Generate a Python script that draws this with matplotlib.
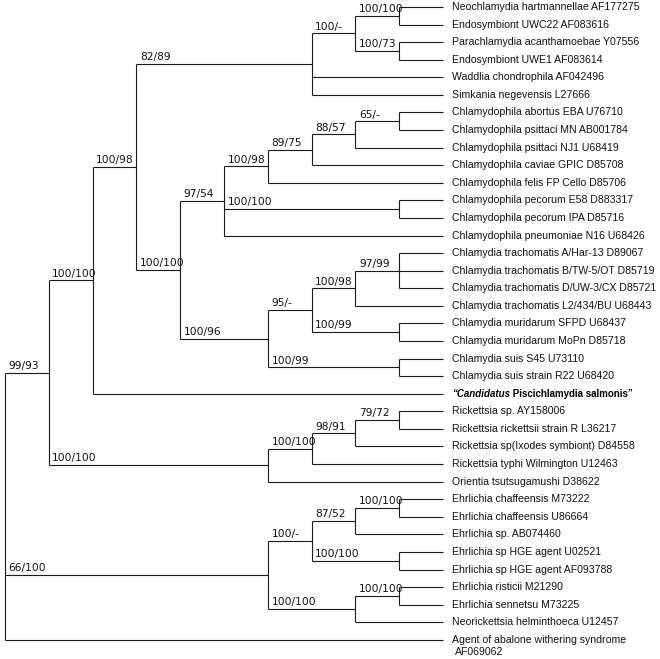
import matplotlib
matplotlib.use("Agg")
import matplotlib.pyplot as plt

# leaf labels, top to bottom
leaves = [
    "Neochlamydia hartmannellae AF177275",
    "Endosymbiont UWC22 AF083616",
    "Parachlamydia acanthamoebae Y07556",
    "Endosymbiont UWE1 AF083614",
    "Waddlia chondrophila AF042496",
    "Simkania negevensis L27666",
    "Chlamydophila abortus EBA U76710",
    "Chlamydophila psittaci MN AB001784",
    "Chlamydophila psittaci NJ1 U68419",
    "Chlamydophila caviae GPIC D85708",
    "Chlamydophila felis FP Cello D85706",
    "Chlamydophila pecorum E58 D883317",
    "Chlamydophila pecorum IPA D85716",
    "Chlamydophila pneumoniae N16 U68426",
    "Chlamydia trachomatis A/Har-13 D89067",
    "Chlamydia trachomatis B/TW-5/OT D85719",
    "Chlamydia trachomatis D/UW-3/CX D85721",
    "Chlamydia trachomatis L2/434/BU U68443",
    "Chlamydia muridarum SFPD U68437",
    "Chlamydia muridarum MoPn D85718",
    "Chlamydia suis S45 U73110",
    "Chlamydia suis strain R22 U68420",
    "CANDIDATUS",
    "Rickettsia sp. AY158006",
    "Rickettsia rickettsii strain R L36217",
    "Rickettsia sp(Ixodes symbiont) D84558",
    "Rickettsia typhi Wilmington U12463",
    "Orientia tsutsugamushi D38622",
    "Ehrlichia chaffeensis M73222",
    "Ehrlichia chaffeensis U86664",
    "Ehrlichia sp. AB074460",
    "Ehrlichia sp HGE agent U02521",
    "Ehrlichia sp HGE agent AF093788",
    "Ehrlichia risticii M21290",
    "Ehrlichia sennetsu M73225",
    "Neorickettsia helminthoeca U12457",
    "Agent of abalone withering syndrome",
]
extra_line = "AF069062"
leaf_level = 10

# internal nodes: id, level (x position in the cladogram), support, children
node_ids = ["neo", "para", "parach", "env", "abort", "psit", "cav", "fel",
            "pec", "cpn", "tra3", "tra", "mur", "trmu", "suis", "chl",
            "chlam", "ord", "cand", "r1", "r2", "r3", "rick", "top",
            "ch", "e1", "hge", "e2", "ris", "neor", "ehr", "root"]
node_levels = [9, 9, 8, 7, 9, 8, 7, 6,
               9, 5, 9, 8, 9, 7, 9, 6,
               4, 3, 2, 9, 8, 7, 6, 1,
               9, 8, 9, 7, 9, 8, 6, 0]
node_support = ["100/100", "100/73", "100/-", "82/89", "65/-", "88/57", "89/75", "100/98",
                "100/100", "97/54", "97/99", "100/98", "100/99", "95/-", "100/99", "100/96",
                "100/100", "100/98", "100/100", "79/72", "98/91", "100/100", "100/100", "99/93",
                "100/100", "87/52", "100/100", "100/-", "100/100", "100/100", "66/100", ""]
node_children = [[0, 1], [2, 3], ["neo", "para"], ["parach", 4, 5],
                 [6, 7], ["abort", 8], ["psit", 9], ["cav", 10],
                 [11, 12], ["fel", "pec", 13], [14, 15, 16], ["tra3", 17],
                 [18, 19], ["tra", "mur"], [20, 21], ["trmu", "suis"],
                 ["cpn", "chl"], ["env", "chlam"], ["ord", 22], [23, 24],
                 ["r1", 25], ["r2", 26], ["r3", 27], ["cand", "rick"],
                 [28, 29], ["ch", 30], [31, 32], ["e1", "hge"],
                 [33, 34], ["ris", 35], ["e2", "neor"], ["top", "ehr", 36]]

fig = plt.figure(figsize=(6.6, 6.59), dpi=100)
ax = fig.add_axes([0, 0, 1, 1])
ax.set_xlim(-0.114, 14.95)
ax.set_ylim(37.09, -0.40)
ax.axis("off")

lw = 0.8
col = "#1a1a1a"
fs = 7.6
font = "Liberation Sans"

level = dict(zip(node_ids, node_levels))
support = dict(zip(node_ids, node_support))
children = dict(zip(node_ids, node_children))
ypos = {}


def get_y(n):
    if isinstance(n, int):
        return n
    if n not in ypos:
        ys = [get_y(c) for c in children[n]]
        ypos[n] = (min(ys) + max(ys)) / 2
    return ypos[n]


def get_x(n):
    return leaf_level if isinstance(n, int) else level[n]


for n in node_ids:
    x = level[n]
    ys = [get_y(c) for c in children[n]]
    ax.plot([x, x], [min(ys), max(ys)], color=col, lw=lw, solid_capstyle="butt")
    for c in children[n]:
        cy = get_y(c)
        ax.plot([x, get_x(c)], [cy, cy], color=col, lw=lw, solid_capstyle="butt")
        if not isinstance(c, int) and support[c]:
            ax.text(x + 0.08, cy - 0.1, support[c], fontsize=7.7, family="DejaVu Sans",
                    ha="left", va="bottom", color="#111111")

# leaf labels
for i, name in enumerate(leaves):
    if name == "CANDIDATUS":
        t1 = ax.text(leaf_level + 0.2, i, "\u201cCandidatus", fontsize=7.0, family=font,
                     fontweight="bold", fontstyle="italic", ha="left", va="center")
        ax.annotate(" Piscichlamydia salmonis\u201d", xy=(1, 0), xycoords=t1,
                    fontsize=7.0, family=font, fontweight="bold", ha="left", va="bottom")
    else:
        ax.text(leaf_level + 0.2, i, name, fontsize=fs, family=font,
                ha="left", va="center", color="#111111")
ax.text(leaf_level + 0.27, len(leaves) - 1 + 0.68, extra_line, fontsize=fs, family=font,
        ha="left", va="center", color="#111111")

fig.savefig("out.png", dpi=100, facecolor="white")
